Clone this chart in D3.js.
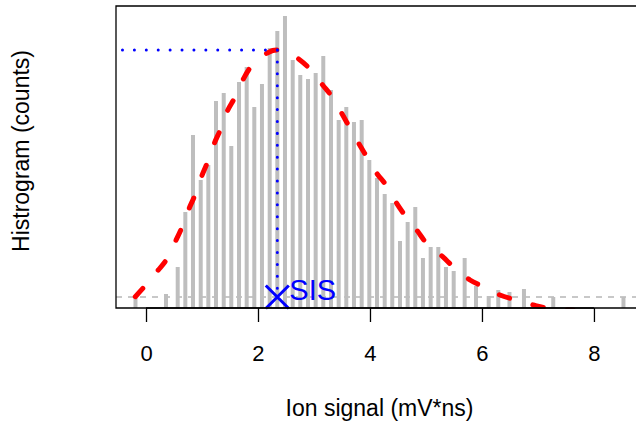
<!DOCTYPE html>
<html>
<head>
<meta charset="utf-8">
<script src="https://cdn.jsdelivr.net/npm/d3@7"></script>
<style>
  html, body { margin: 0; padding: 0; background: #fff; }
  svg { display: block; font-family: "Liberation Sans", Arial, Helvetica, sans-serif; }
</style>
</head>
<body>
<svg id="chart" width="636" height="425"></svg>
<script>
// Histogram bins: centre of each bin (mV*ns) and its count
const binCenters = [-0.188, 0.357, 0.566, 0.702, 0.839, 0.977, 1.113, 1.250, 1.388, 1.523,
  1.661, 1.798, 1.934, 2.071, 2.209, 2.345, 2.482, 2.620, 2.755, 2.893,
  3.030, 3.166, 3.304, 3.441, 3.577, 3.714, 3.852, 3.988, 4.125, 4.263,
  4.398, 4.536, 4.673, 4.809, 4.946, 5.084, 5.220, 5.357, 5.495, 5.691,
  5.893, 6.120, 6.291, 6.491, 6.750, 7.273, 8.527];
const counts = [10, 14, 41, 96, 173, 128, 143, 207, 215, 162,
  226, 241, 201, 224, 260, 277, 292, 248, 233, 229,
  235, 252, 218, 188, 201, 186, 188, 148, 130, 114,
  105, 67, 86, 101, 50, 61, 61, 41, 37, 50,
  22, 12, 18, 16, 19, 11, 11];

// Smoothed fit of the distribution
const fitX = [-0.191, -0.030, 0.209, 0.370, 0.523, 0.638, 0.763, 0.875, 0.995, 1.102,
  1.220, 1.339, 1.446, 1.595, 1.745, 1.875, 2.027, 2.155, 2.263, 2.345, 2.398, 2.534,
  2.709, 2.916, 3.155, 3.321, 3.495, 3.630, 3.798, 3.941, 4.120, 4.286,
  4.477, 4.643, 4.834, 5.013, 5.298, 5.488, 5.786, 5.995, 6.321, 6.559,
  6.916, 7.184, 7.630];
const fitY = [11.3, 21.3, 37.3, 48.7, 66.3, 80.3, 98.7, 113, 132, 146.3,
  164.7, 179.7, 196.3, 211.3, 229.7, 241.3, 249.5, 254.7, 257.5, 258, 257.8, 255.5,
  249.7, 239.7, 223, 211.3, 194.7, 181.3, 164.7, 151.3, 134.7, 123,
  104.7, 91.3, 78, 64.7, 51.3, 41.3, 28, 22, 13, 8.7,
  3, -0.3, -2];

// Peak of the fit (single-ion signal) and the reference level
const peakX = 2.345;
const peakY = 258;
const baseLevel = 11;
const peakLabel = "SIS";

const xTicks = [0, 2, 4, 6, 8];
const xTitle = "Ion signal (mV*ns)";
const yTitle = "Histrogram (counts)";

const svg = d3.select("#chart");
const plot = { left: 116, top: 6, bottom: 308, right: 643 };

const x = d3.scaleLinear().domain([-0.536, 8.876]).range([plot.left, plot.right]);
const y = d3.scaleLinear().domain([0, 302]).range([plot.bottom, plot.top]);

svg.append("defs").append("clipPath").attr("id", "clip")
  .append("rect")
  .attr("x", plot.left).attr("y", plot.top)
  .attr("width", plot.right - plot.left).attr("height", plot.bottom - plot.top + 1);

const g = svg.append("g").attr("clip-path", "url(#clip)");

// reference level
g.append("line")
  .attr("x1", plot.left).attr("x2", plot.right)
  .attr("y1", y(baseLevel)).attr("y2", y(baseLevel))
  .attr("stroke", "#c8c8c8").attr("stroke-width", 2)
  .attr("stroke-dasharray", "6,6");

// histogram bars
g.selectAll("line.bar")
  .data(binCenters.map((c, i) => ({ c, n: counts[i] })))
  .join("line")
  .attr("class", "bar")
  .attr("x1", d => x(d.c)).attr("x2", d => x(d.c))
  .attr("y1", y(0)).attr("y2", d => y(d.n))
  .attr("stroke", "#bebebe").attr("stroke-width", 4);

// fitted curve
const fitLine = d3.line()
  .x(d => x(d[0])).y(d => y(d[1]))
  .curve(d3.curveCatmullRom);
g.append("path")
  .datum(fitX.map((v, i) => [v, fitY[i]]))
  .attr("d", fitLine)
  .attr("fill", "none")
  .attr("stroke", "#ff0000").attr("stroke-width", 5)
  .attr("stroke-linecap", "round")
  .attr("stroke-dasharray", "11,24");

// peak guides
const guide = (x1, y1, x2, y2) => g.append("line")
  .attr("x1", x(x1)).attr("y1", y(y1)).attr("x2", x(x2)).attr("y2", y(y2))
  .attr("stroke", "#0000ff").attr("stroke-width", 3)
  .attr("stroke-linecap", "round")
  .attr("stroke-dasharray", "0.01,11.9");
guide(peakX, peakY, x.invert(plot.left), peakY);
guide(peakX, peakY, peakX, baseLevel);

// peak marker
const mx = x(peakX), my = y(baseLevel), ms = 11.5;
svg.append("path")
  .attr("d", `M${mx - ms},${my - ms}L${mx + ms},${my + ms}M${mx - ms},${my + ms}L${mx + ms},${my - ms}`)
  .attr("stroke", "#0000ff").attr("stroke-width", 3).attr("fill", "none");
svg.append("text")
  .attr("x", mx + 12).attr("y", my + 2.5)
  .attr("fill", "#0000ff").attr("font-size", 29)
  .text(peakLabel);

// frame
svg.append("path")
  .attr("d", `M${plot.right},${plot.top}H${plot.left}V${plot.bottom}H${plot.right}`)
  .attr("fill", "none").attr("stroke", "#000").attr("stroke-width", 1.3);

// x axis
const xAxis = d3.axisBottom(x).tickValues(xTicks).tickSize(14).tickPadding(23)
  .tickFormat(d3.format("d"));
const ax = svg.append("g").attr("transform", `translate(0,${plot.bottom})`).call(xAxis);
ax.select(".domain").attr("d", `M${x(xTicks[0])},0H${x(xTicks[xTicks.length - 1])}`)
  .attr("stroke", "#000").attr("stroke-width", 1.3);
ax.selectAll(".tick line").attr("stroke", "#000").attr("stroke-width", 1.3);
ax.selectAll(".tick text").attr("font-size", 22).attr("fill", "#000")
  .attr("font-family", "Liberation Sans, Arial, sans-serif");

// axis titles
svg.append("text")
  .attr("x", (plot.left + plot.right) / 2).attr("y", 416)
  .attr("text-anchor", "middle").attr("font-size", 23).attr("fill", "#000")
  .text(xTitle);
svg.append("text")
  .attr("transform", "translate(29,151) rotate(-90)")
  .attr("text-anchor", "middle").attr("font-size", 23).attr("fill", "#000")
  .text(yTitle);
</script>
</body>
</html>
